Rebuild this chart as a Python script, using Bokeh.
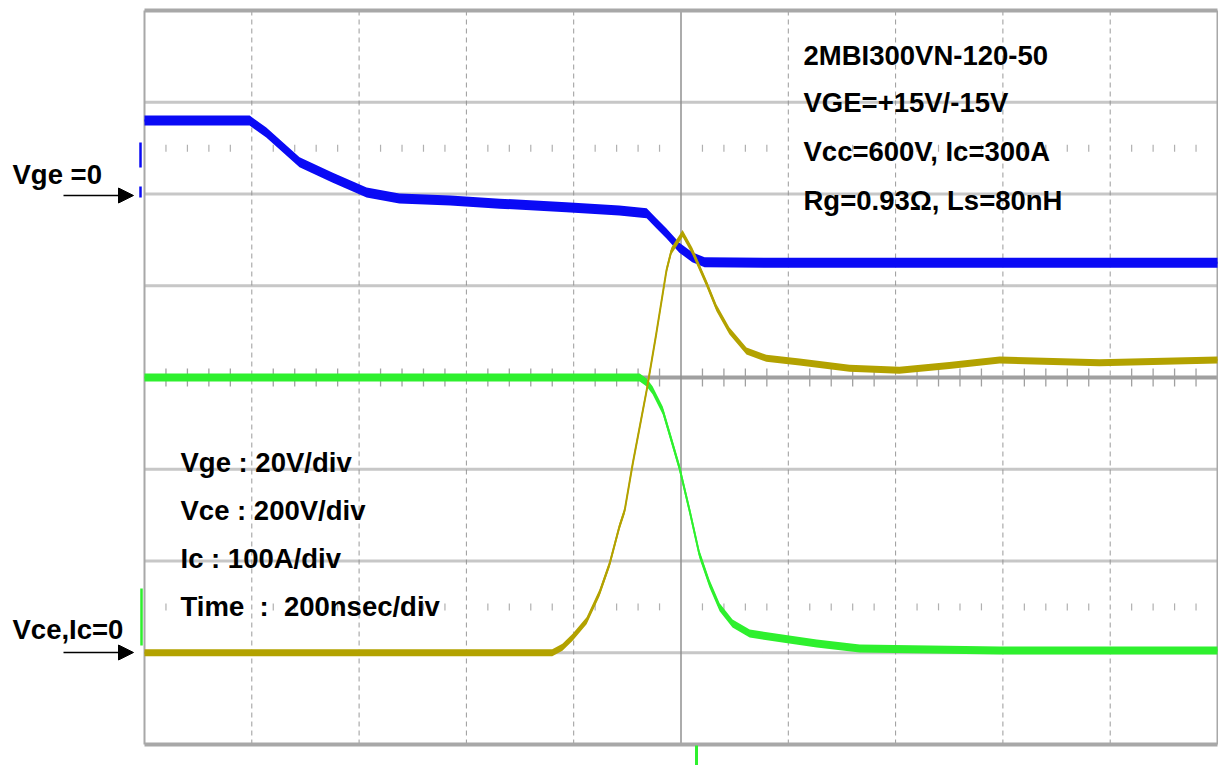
import numpy as np
from bokeh.plotting import figure
from bokeh.models import Range1d, Arrow, NormalHead
from bokeh.core.properties import value
from bokeh.embed import file_html
from bokeh.resources import INLINE

# ---------------- data ----------------
TIME_PER_DIV_NS = 200
VGE_V_PER_DIV = 20
VCE_V_PER_DIV = 200
IC_A_PER_DIV = 100
VGE_ZERO_DIV = 2.0
VCE_IC_ZERO_DIV = -3.0

vge_t_ns = [-1000, -804, -773, -711, -650, -586, -525, -430, -338, -214, -115,
            -64, -46, -27, -3, 21, 44, 200, 400, 600, 800, 1000]
vge_v = [16.0, 16.0, 13.4, 6.9, 3.6, 0.3, -1.0, -1.4, -2.1, -2.9, -3.6,
         -4.2, -6.4, -8.6, -11.7, -13.8, -14.9, -15.0, -15.0, -15.0, -15.0, -15.0]

vce_t_ns = [-1000, -77, -64, -53, -34, -16, -3, 16, 34, 53, 72, 96, 128,
            189, 253, 333, 594, 1000]
vce_v = [600, 600, 589, 572, 528, 456, 404, 310, 216, 151, 99, 64, 42,
         31, 20, 9, 5, 5]

ic_t_ns = [-1000, -240, -221, -202, -176, -152, -133, -115, -105, -90, -64,
           -46, -27, -18, 3, 21, 48, 66, 90, 122, 159, 221, 314, 407, 500,
           594, 780, 1000]
ic_a = [0, 0, 6, 17, 35, 65, 97, 137, 155, 206, 286,
        348, 417, 438, 457, 438, 402, 376, 351, 329, 321, 317, 310, 308, 313,
        319, 316, 319]

info_labels = ["2MBI300VN-120-50", "VGE=+15V/-15V", "Vcc=600V, Ic=300A",
               "Rg=0.93\u03a9, Ls=80nH"]
scale_labels = ["Vge : 20V/div", "Vce : 200V/div", "Ic : 100A/div",
                "Time\u00a0 :\u00a0 200nsec/div"]
zero_labels = ["Vge =0", "Vce,Ic=0"]

# ---------------- layout ----------------
W, H = 1218, 765
PAGE = 0
GL, GR, GT, GB = 144, 1217, 10, 744          # grid box in page px
PX_NS = (GR - GL) / (10 * TIME_PER_DIV_NS)
PX_DIV = (GB - GT) / 8.0
CY = GT + 4 * PX_DIV

x0 = -1000 - (GL - PAGE) / PX_NS
x1 = 1000 + (PAGE + W - GR) / PX_NS
y1 = 4 + (GT - PAGE) / PX_DIV
y0 = -4 - (PAGE + H - GB) / PX_DIV


def fx(px):
    return -1000 + (px - GL) / PX_NS


def fy(py):
    return (CY - py) / PX_DIV


p = figure(width=W, height=H, output_backend="svg", toolbar_location=None,
           x_axis_location=None, y_axis_location=None,
           x_range=Range1d(x0, x1), y_range=Range1d(y0, y1),
           min_border=0, outline_line_color=None, background_fill_color="white",
           border_fill_color="white")
p.xgrid.visible = False
p.ygrid.visible = False

# vertical dashed grid
vx = [k * TIME_PER_DIV_NS for k in range(-4, 5) if k != 0]
p.segment(x0=vx, y0=[-4] * len(vx), x1=vx, y1=[4] * len(vx),
          line_color="#9a9a9a", line_width=1, line_dash="5 4")
# horizontal dotted grid
hy = [-3, -2, -1, 1, 2, 3]
p.segment(x0=[-1000] * 6, y0=hy, x1=[1000] * 6, y1=hy,
          line_color="#8e8e8e", line_width=3, line_dash="1 1")
# minor ticks
mt = [t for t in range(-960, 1000, 40) if t % 200 != 0]
tk = 9 / PX_DIV
p.segment(x0=mt, y0=[-tk] * len(mt), x1=mt, y1=[tk] * len(mt),
          line_color="#a0a0a0", line_width=1.3)
ts = 3.5 / PX_DIV
for yy in (2.5, -2.5):
    p.segment(x0=mt, y0=[yy - ts] * len(mt), x1=mt, y1=[yy + ts] * len(mt),
              line_color="#b0b0b0", line_width=1.2)
# centre lines
p.segment(x0=[-1000], y0=[0], x1=[1000], y1=[0], line_color="#a0a0a0", line_width=4)
p.segment(x0=[0], y0=[-4], x1=[0], y1=[4], line_color="#909090", line_width=1.5)
# frame borders
p.segment(x0=[-1000, -1000], y0=[4, -4], x1=[1000, 1000], y1=[4, -4],
          line_color="#a8a8a8", line_width=4)
p.segment(x0=[-1000, 1000], y0=[-4, -4], x1=[-1000, 1000], y1=[4, 4],
          line_color="#a8a8a8", line_width=2)

# ---------------- traces ----------------
vge_div = np.array(vge_v) / VGE_V_PER_DIV + VGE_ZERO_DIV
vce_div = np.array(vce_v) / VCE_V_PER_DIV + VCE_IC_ZERO_DIV
ic_div = np.array(ic_a) / IC_A_PER_DIV + VCE_IC_ZERO_DIV

BLUE, GREEN, YELLOW = "#0a0af5", "#2ef02e", "#b3a200"


def trace(t, d, color, half_px):
    h = half_px / PX_DIV
    p.varea(x=t, y1=d - h, y2=d + h, fill_color=color)
    p.line(x=t, y=d, line_color=color, line_width=2)


trace(vce_t_ns, vce_div, GREEN, 4.0)
trace(vge_t_ns, vge_div, BLUE, 5.0)
trace(ic_t_ns, ic_div, YELLOW, 3.5)

# channel markers
p.segment(x0=[fx(140), fx(140), fx(141)], y0=[fy(142), fy(186), fy(588)],
          x1=[fx(140), fx(140), fx(141)], y1=[fy(167), fy(197), fy(645)],
          line_color=[BLUE, BLUE, GREEN], line_width=2.5)
p.segment(x0=[fx(696)], y0=[fy(745)], x1=[fx(696)], y1=[y0],
          line_color=GREEN, line_width=3)

# ---------------- texts ----------------
FONT = value("Liberation Sans")
FS = value("27.5px")
p.text(x=[fx(803)] * 4, y=[fy(b) for b in (55, 102, 151, 200)], text=info_labels,
       text_font=FONT, text_font_style="bold", text_font_size=FS,
       text_baseline="alphabetic", text_align="left", text_color="black")
p.text(x=[fx(180)] * 4, y=[fy(b) for b in (462, 510, 558, 606)], text=scale_labels,
       text_font=FONT, text_font_style="bold", text_font_size=FS,
       text_baseline="alphabetic", text_align="left", text_color="black")
p.text(x=[fx(12)] * 2, y=[fy(174), fy(629)], text=zero_labels,
       text_font=FONT, text_font_style="bold", text_font_size=FS,
       text_baseline="alphabetic", text_align="left", text_color="black")

for yy in (195, 652):
    p.add_layout(Arrow(x_start=fx(63), y_start=fy(yy), x_end=fx(133), y_end=fy(yy),
                       line_color="black", line_width=1.5,
                       end=NormalHead(size=15, fill_color="black", line_color="black")))

open("out.html", "w").write(file_html(p, INLINE))
